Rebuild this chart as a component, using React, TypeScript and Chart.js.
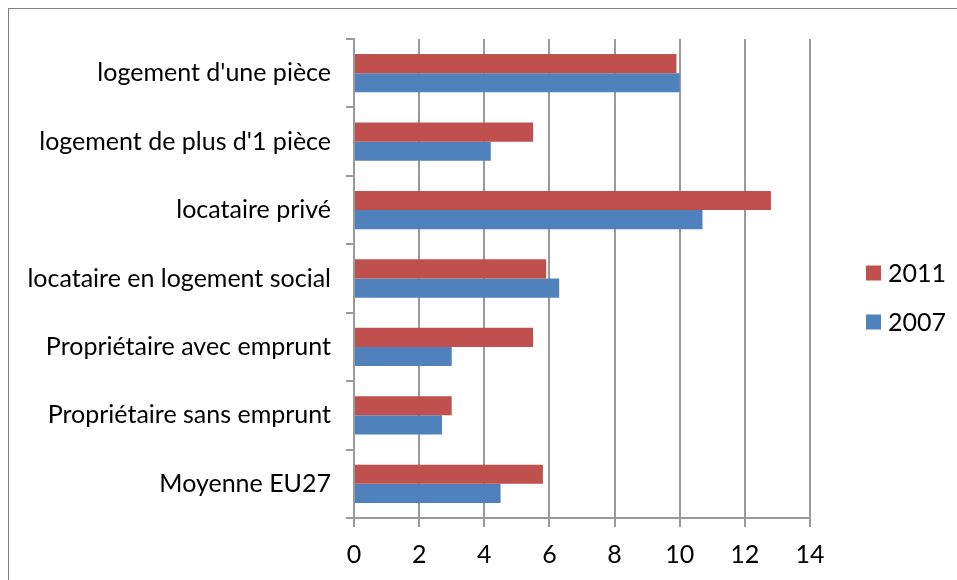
import React, { useEffect, useRef } from "react";
import { Chart, registerables } from "chart.js";

Chart.register(...registerables);

const categories = [
  "logement d'une pièce",
  "logement de plus d'1 pièce",
  "locataire privé",
  "locataire en logement social",
  "Propriétaire avec emprunt",
  "Propriétaire sans emprunt",
  "Moyenne EU27",
];
const values2011 = [9.9, 5.5, 12.8, 5.9, 5.5, 3.0, 5.8];
const values2007 = [10.0, 4.2, 10.7, 6.3, 3.0, 2.7, 4.5];
const seriesLabels = ["2011", "2007"];
const seriesColors = ["#C0504D", "#4F81BD"];
const xMin = 0;
const xMax = 14;
const xStep = 2;

const FONT_FAMILY = "Lato, 'Open Sans', sans-serif";
const FONT_SIZE = 25;
const GRID_COLOR = "#9a9a9a";

const sideLegend = {
  id: "sideLegend",
  afterDraw(chart: any) {
    const { ctx, chartArea } = chart;
    const cy = (chartArea.top + chartArea.bottom) / 2;
    ctx.save();
    chart.data.datasets.forEach((ds: any, i: number) => {
      const y = cy - 5.5 + i * 49;
      ctx.fillStyle = ds.backgroundColor;
      ctx.fillRect(chartArea.right + 56, y - 7.5, 15, 15);
      ctx.fillStyle = "#000";
      ctx.font = `${FONT_SIZE}px ${FONT_FAMILY}`;
      ctx.textBaseline = "middle";
      ctx.textAlign = "left";
      ctx.fillText(ds.label, chartArea.right + 78, y + 1);
    });
    ctx.restore();
  },
};

export default function App() {
  const ref = useRef<HTMLCanvasElement | null>(null);

  useEffect(() => {
    if (!ref.current) return;
    const chart = new Chart(ref.current, {
      type: "bar",
      data: {
        labels: categories,
        datasets: [
          {
            label: seriesLabels[0],
            data: values2011,
            backgroundColor: seriesColors[0],
            categoryPercentage: 0.56,
            barPercentage: 1,
          },
          {
            label: seriesLabels[1],
            data: values2007,
            backgroundColor: seriesColors[1],
            categoryPercentage: 0.56,
            barPercentage: 1,
          },
        ],
      },
      options: {
        indexAxis: "y",
        animation: false,
        responsive: false,
        maintainAspectRatio: false,
        layout: { padding: { top: 29, right: 147, bottom: 0, left: 0 } },
        plugins: {
          legend: { display: false },
          tooltip: { enabled: false },
        },
        scales: {
          x: {
            min: xMin,
            max: xMax,
            ticks: {
              stepSize: xStep,
              color: "#000",
              padding: 13,
              font: { family: FONT_FAMILY, size: FONT_SIZE },
            },
            grid: {
              color: GRID_COLOR,
              lineWidth: 2,
              tickLength: 9,
              drawTicks: true,
            },
            border: { display: true, color: GRID_COLOR, width: 2 },
            afterFit: (scale: any) => {
              scale.height = 62;
            },
          },
          y: {
            ticks: {
              color: "#000",
              padding: 15,
              font: { family: FONT_FAMILY, size: FONT_SIZE },
            },
            grid: {
              offset: true,
              drawOnChartArea: false,
              color: GRID_COLOR,
              lineWidth: 2,
              tickLength: 8,
            },
            border: { display: true, color: GRID_COLOR, width: 2 },
            afterFit: (scale: any) => {
              scale.width = 345;
            },
          },
        },
      },
      plugins: [sideLegend],
    });
    return () => chart.destroy();
  }, []);

  return (
    <div
      style={{
        position: "fixed",
        left: 8,
        top: 8,
        width: 948,
        height: 572,
        borderTop: "1px solid #7f7f7f",
        borderLeft: "1px solid #7f7f7f",
        background: "#fff",
        overflow: "hidden",
      }}
    >
      <canvas ref={ref} width={948} height={571} style={{ display: "block" }} />
    </div>
  );
}
